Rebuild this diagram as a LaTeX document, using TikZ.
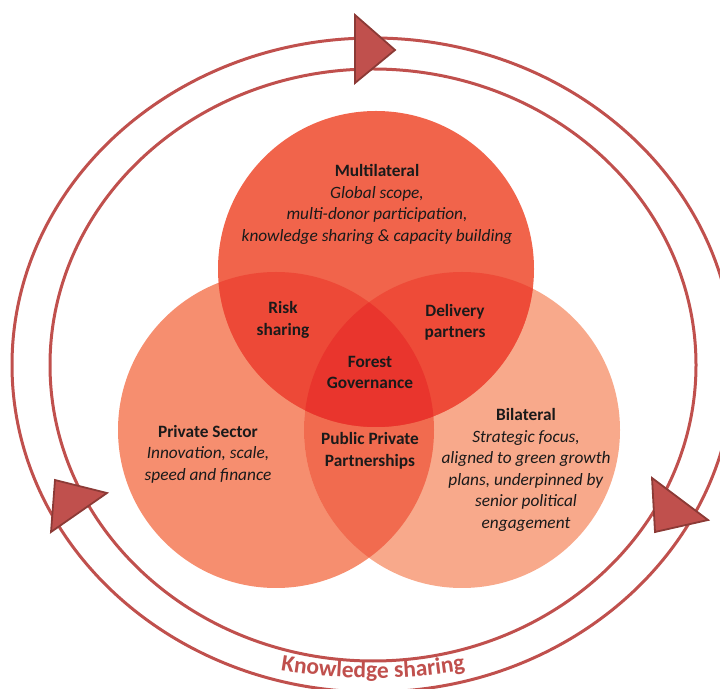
\documentclass[tikz,border=0pt]{standalone}
\usepackage{fontspec}
\setmainfont{Carlito}
\usetikzlibrary{decorations.text}
\definecolor{ringred}{HTML}{C0504D}
\definecolor{arrowdark}{HTML}{8C3A36}
\definecolor{cT}{HTML}{F1644B}
\definecolor{cL}{HTML}{F68E6F}
\definecolor{cR}{HTML}{F8A98B}
\definecolor{cTL}{HTML}{ED4937}
\definecolor{cTR}{HTML}{EE4B38}
\definecolor{cLR}{HTML}{F16B4F}
\definecolor{cC}{HTML}{E9352D}
\definecolor{txt}{HTML}{1A1A1A}
\tikzset{
  ring/.style={draw=ringred, line width=3pt},
  arrowtri/.style={fill=ringred, draw=arrowdark, line width=1.8pt, line join=miter},
  lbl/.style={align=center, text=txt, font=\fontsize{17.3}{21.5}\selectfont, inner sep=0pt},
}
\begin{document}
\begin{tikzpicture}[x=1pt,y=1pt]
\useasboundingbox (0,0) rectangle (720,688);
% circles
\def\T{(376,419) circle[radius=158]}
\def\L{(276,258) circle[radius=158]}
\def\R{(462,258) circle[radius=158]}
\fill[cL] \L;
\fill[cR] \R;
\fill[cT] \T;
\begin{scope}\clip \L; \fill[cLR] \R; \end{scope}
\begin{scope}\clip \T; \fill[cTL] \L; \end{scope}
\begin{scope}\clip \T; \fill[cTR] \R; \end{scope}
\begin{scope}\clip \T; \clip \L; \fill[cC] \R; \end{scope}
% rings
\draw[ring] (373,323) ellipse[x radius=323, y radius=296];
\draw[ring] (373,323) ellipse[x radius=361, y radius=327];
% arrowheads
\draw[arrowtri] (355,673) -- (395,638) -- (355,605) -- cycle;
\draw[arrowtri] (55,208) -- (107,195) -- (51,156) -- cycle;
\draw[arrowtri] (652,210) -- (708,168) -- (655,156) -- cycle;
% labels
\node[lbl] (multi) at (377,483.5) {\textbf{Multilateral}\\\textit{Global scope,}\\\textit{multi-donor participation,}\\\textit{knowledge sharing \& capacity building}};
\node[lbl] (risk) at (283,368) {\textbf{Risk}\\\textbf{sharing}};
\node[lbl] (deliv) at (455,365.5) {\textbf{Delivery}\\\textbf{partners}};
\node[lbl] (forest) at (370,315.5) {\textbf{Forest}\\\textbf{Governance}};
\node[lbl] (ppp) at (370,237) {\textbf{Public Private}\\\textbf{Partnerships}};
\node[lbl] (priv) at (208,234) {\textbf{Private Sector}\\\textit{Innovation, scale,}\\\textit{speed and finance}};
\node[lbl] (bilat) at (526,218) {\textbf{Bilateral}\\\textit{Strategic focus,}\\\textit{aligned to green growth}\\\textit{plans, underpinned by}\\\textit{senior political}\\\textit{engagement}};
% curved label
\path[decorate, decoration={text along path, text align=center,
  text={|\fontsize{23.5}{28}\selectfont\bfseries\color{ringred}|Knowledge sharing}}]
  (373,560) ++(250:550) arc[start angle=250, end angle=290, radius=550];
\end{tikzpicture}
\end{document}
